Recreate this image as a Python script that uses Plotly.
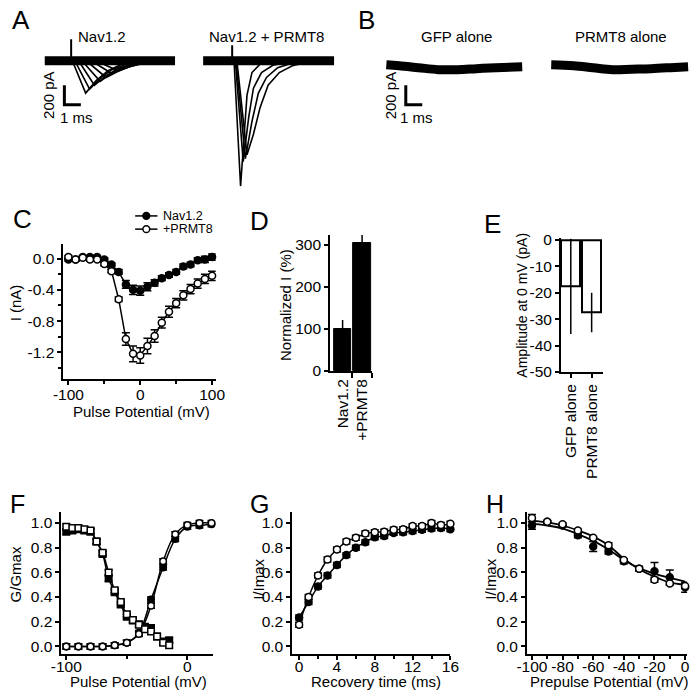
import plotly.graph_objects as go

W, H = 700, 699
FONT = "Arial, Liberation Sans, sans-serif"

# ---------------- DATA ----------------
# Panel A: example current sweeps (time in ms from stimulus, current in pA)
nav_sweep_t = [
    [0, 0.12, 0.88, 1.53, 2.24, 3.12, 4.29, 6.2],
    [0, 0.29, 1.12, 1.76, 2.47, 3.41, 4.59, 6.2],
    [0, 0.53, 1.41, 2.06, 2.82, 3.71, 4.88, 6.2],
    [0, 0.76, 1.76, 2.41, 3.12, 4.00, 5.06, 6.2],
    [0, 1.06, 2.12, 2.82, 3.53, 4.41, 5.29, 6.2],
    [0, 1.41, 2.47, 3.18, 3.88, 4.71, 5.50, 6.2],
    [0, 1.76, 2.82, 3.53, 4.29, 5.06, 5.70, 6.2],
]
nav_sweep_i = [
    [0, -20, -330, -200, -100, -30, -10, 0],
    [0, -20, -290, -180, -90, -30, -10, 0],
    [0, -20, -250, -160, -80, -30, -10, 0],
    [0, -20, -210, -130, -70, -30, -10, 0],
    [0, -20, -170, -110, -60, -20, -10, 0],
    [0, -20, -130, -80, -40, -20, -5, 0],
    [0, -20, -100, -60, -30, -10, -5, 0],
]
prmt_sweep_t = [
    [0, 0.12, 0.51, 0.71, 0.90, 1.20, 1.69, 2.50, 6.1],
    [0, 0.20, 0.67, 1.00, 1.29, 1.78, 2.47, 3.50, 6.1],
    [0, 0.25, 0.80, 1.20, 1.59, 2.08, 2.76, 3.80, 6.1],
    [0, 0.30, 0.90, 1.29, 1.69, 2.18, 2.86, 3.65, 4.43, 5.50, 6.1],
]
prmt_sweep_i = [
    [0, -20, -1280, -750, -350, -120, -35, -10, 0],
    [0, -20, -1030, -580, -280, -120, -45, -10, 0],
    [0, -20, -1000, -620, -330, -170, -70, -15, 0],
    [0, -20, -960, -750, -480, -250, -120, -50, -20, -5, 0],
]
nav_base_t = [-1.6, 6.3]
prmt_base_t = [-1.76, 6.18]
base_i = [0, 0]
nav_artifact_i = [0, 220]
prmt_artifact_i = [0, 160]

# Panel B: control traces
gfp_t = [-1.18, -0.41, 0.76, 1.94, 3.12, 4.29, 5.47, 7.06]
gfp_i = [-40, -50, -70, -90, -90, -80, -70, -60]
prmt_alone_t = [8.82, 10.18, 11.35, 12.53, 13.71, 14.88, 16.06, 17.12]
prmt_alone_i = [-40, -50, -70, -90, -85, -80, -70, -60]

scale_ms = 1
scale_pa = 200

# Panel C: I-V
c_v = list(range(-100, 101, 10))
c_nav = [-0.01, -0.01, 0.02, 0.02, 0.02, -0.01, -0.075, -0.17, -0.33, -0.40, -0.41,
         -0.36, -0.31, -0.25, -0.21, -0.17, -0.10, -0.075, -0.02, -0.01, 0.02]
c_nav_err = [0.02, 0.02, 0.02, 0.02, 0.02, 0.02, 0.02, 0.03, 0.05, 0.06, 0.06,
             0.05, 0.04, 0.03, 0.03, 0.03, 0.03, 0.03, 0.03, 0.04, 0.04]
c_prmt = [0.02, -0.01, 0.01, -0.01, -0.01, -0.07, -0.16, -0.52, -1.03, -1.22, -1.24,
          -1.12, -0.99, -0.82, -0.68, -0.57, -0.47, -0.39, -0.32, -0.26, -0.22]
c_prmt_err = [0.02, 0.02, 0.02, 0.02, 0.02, 0.02, 0.02, 0.03, 0.08, 0.10, 0.10,
              0.10, 0.08, 0.07, 0.07, 0.06, 0.06, 0.06, 0.06, 0.06, 0.06]

# Panel D: normalized current
d_groups = ["Nav1.2", "+PRMT8"]
d_values = [100, 303]
d_err = [21, 25]

# Panel E: amplitude at 0 mV
e_groups = ["GFP alone", "PRMT8 alone"]
e_values = [-17.6, -27.5]
e_err = [18, 7.5]

# Panel F: activation / inactivation
f_act_v = [-100, -90, -80, -70, -60, -50, -40, -30, -20, -10, 0, 10, 20]
f_act_nav = [0.0, 0.0, 0.0, 0.0, 0.01, 0.03, 0.11, 0.38, 0.64, 0.87, 0.97, 0.98, 0.99]
f_act_prmt = [0.0, 0.0, 0.0, 0.0, 0.01, 0.03, 0.10, 0.33, 0.69, 0.91, 0.985, 1.0, 1.0]
f_inact_v = [-100, -95, -90, -85, -80, -75, -70, -65, -60, -55, -50, -45, -40, -35, -30, -25, -20, -15]
f_inact_nav = [0.93, 0.94, 0.95, 0.94, 0.93, 0.85, 0.75, 0.55, 0.44, 0.34, 0.24, 0.21, 0.18,
               0.16, 0.15, 0.08, 0.04, 0.05]
f_inact_prmt = [0.97, 0.96, 0.96, 0.95, 0.94, 0.85, 0.76, 0.60, 0.455, 0.36, 0.26, 0.215, 0.175,
                0.14, 0.12, 0.08, 0.03, 0.01]
f_err = 0.02

# Panel G: recovery from inactivation
g_t = list(range(0, 17))
g_nav = [0.235, 0.36, 0.485, 0.575, 0.66, 0.74, 0.80, 0.845, 0.885, 0.895, 0.92, 0.925,
         0.935, 0.945, 0.955, 0.96, 0.95]
g_prmt = [0.175, 0.40, 0.575, 0.705, 0.785, 0.85, 0.88, 0.915, 0.925, 0.93, 0.945, 0.95,
          0.975, 0.975, 1.0, 0.985, 0.995]
g_err = 0.02

# Panel H: steady-state inactivation (slow)
h_v = [-100, -90, -80, -70, -60, -50, -40, -30, -20, -10, 0]
h_nav = [0.98, 1.01, 0.98, 0.90, 0.81, 0.77, 0.69, 0.63, 0.61, 0.56, 0.48]
h_nav_err = [0.03, 0.01, 0.01, 0.02, 0.04, 0.02, 0.02, 0.02, 0.07, 0.06, 0.04]
h_prmt = [1.04, 1.01, 0.99, 0.94, 0.88, 0.82, 0.70, 0.63, 0.54, 0.51, 0.49]
h_prmt_err = [0.03, 0.01, 0.01, 0.01, 0.01, 0.02, 0.01, 0.01, 0.02, 0.01, 0.02]
h_fit_nav = [0.995, 0.98, 0.955, 0.91, 0.855, 0.785, 0.70, 0.635, 0.59, 0.555, 0.525]
h_fit_prmt = [1.02, 1.005, 0.98, 0.94, 0.89, 0.82, 0.71, 0.625, 0.565, 0.52, 0.50]

# ---------------- FIGURE ----------------
fig = go.Figure()


def dx(a, b):
    return [a / W, b / W]


def dy(top, bottom):
    return [1 - bottom / H, 1 - top / H]


def line_tr(x, y, ax, width=1.5, shape="linear", color="black"):
    fig.add_trace(go.Scatter(x=x, y=y, mode="lines", xaxis="x" + ax, yaxis="y" + ax,
                             line=dict(color=color, width=width, shape=shape),
                             hoverinfo="skip", showlegend=False))


def series(x, y, ax, err=None, filled=True, symbol="circle", size=7, lines=True,
           shape="linear", capw=4):
    e = None
    if err is not None:
        arr = err if isinstance(err, list) else [err] * len(x)
        e = dict(type="data", array=arr, color="black", thickness=1.5, width=capw)
    fig.add_trace(go.Scatter(
        x=x, y=y, mode="lines+markers" if lines else "markers",
        xaxis="x" + ax, yaxis="y" + ax, error_y=e,
        line=dict(color="black", width=1.5, shape=shape),
        marker=dict(symbol=symbol, size=size, color="black" if filled else "white",
                    line=dict(color="black", width=1.5)),
        cliponaxis=False, hoverinfo="skip", showlegend=False))


# Panel A traces (axes 1 & 2)
for ax, base_t, art, st, si in [("", nav_base_t, nav_artifact_i, nav_sweep_t, nav_sweep_i),
                                ("2", prmt_base_t, prmt_artifact_i, prmt_sweep_t, prmt_sweep_i)]:
    line_tr(base_t, base_i, ax, width=9)
    line_tr([0, 0], art, ax, width=2)
    for t, i in zip(st, si):
        line_tr(t, i, ax, width=1.6)

# scale bar A
line_tr([-0.41, -0.41, -0.41 + scale_ms], [-250, -250 - scale_pa, -250 - scale_pa], "", width=3)

# Panel B (axis 3)
line_tr(gfp_t, gfp_i, "3", width=9, shape="spline")
line_tr(prmt_alone_t, prmt_alone_i, "3", width=9, shape="spline")
line_tr([0, 0, scale_ms], [-250, -250 - scale_pa, -250 - scale_pa], "3", width=3)

# Panel C (axis 4)
series(c_v, c_nav, "4", c_nav_err, filled=True)
series(c_v, c_prmt, "4", c_prmt_err, filled=False)

# Panel D (axis 5)
fig.add_trace(go.Bar(x=[0, 1], y=d_values, width=0.9, xaxis="x5", yaxis="y5",
                     marker=dict(color="black", line=dict(color="black", width=1)),
                     error_y=dict(type="data", array=d_err, color="black", thickness=1.5, width=0),
                     hoverinfo="skip", showlegend=False))

# Panel E (axis 6)
fig.add_trace(go.Bar(x=[0, 1], y=e_values, width=0.92, xaxis="x6", yaxis="y6",
                     marker=dict(color="white", line=dict(color="black", width=2)),
                     error_y=dict(type="data", array=e_err, color="black", thickness=1.5, width=0),
                     hoverinfo="skip", showlegend=False))

# Panel F (axis 7)
series(f_act_v, f_act_nav, "7", f_err, filled=True, size=6.5, shape="spline")
series(f_act_v, f_act_prmt, "7", f_err, filled=False, size=6.5, shape="spline")
series(f_inact_v, f_inact_nav, "7", f_err, filled=True, symbol="square", size=6.5, shape="spline")
series(f_inact_v, f_inact_prmt, "7", f_err, filled=False, symbol="square", size=6.5, shape="spline")

# Panel G (axis 8)
series(g_t, g_nav, "8", g_err, filled=True, size=7, shape="spline")
series(g_t, g_prmt, "8", g_err, filled=False, size=7, shape="spline")

# Panel H (axis 9)
line_tr(h_v, h_fit_nav, "9", width=1.8, shape="spline")
line_tr(h_v, h_fit_prmt, "9", width=1.8, shape="spline")
series(h_v, h_nav, "9", h_nav_err, filled=True, size=7, lines=False)
series(h_v, h_prmt, "9", h_prmt_err, filled=False, size=7, lines=False)

TICK_FS = 15.5
TITLE_FS = 15


# ---------------- AXES ----------------
def ax_style(**kw):
    d = dict(showline=True, linecolor="black", linewidth=2, ticks="outside", ticklen=4,
             tickwidth=2, tickcolor="black", showgrid=False, zeroline=False,
             tickfont=dict(family=FONT, size=TICK_FS, color="black"), fixedrange=True)
    d.update(kw)
    return d


MINOR = dict(ticks="outside", ticklen=3, tickwidth=2, tickcolor="black")
hidden = dict(visible=False, showgrid=False, zeroline=False, fixedrange=True)
a_yrange = [-1400, 350]
lay = {}
lay["xaxis"] = dict(hidden, domain=dx(30, 175), range=[(30 - 62) / 17, (175 - 62) / 17])
lay["yaxis"] = dict(hidden, domain=dy(20, 195), range=a_yrange)
lay["xaxis2"] = dict(hidden, domain=dx(185, 345), range=[(185 - 228) / 17, (345 - 228) / 17])
lay["yaxis2"] = dict(hidden, domain=dy(20, 195), range=a_yrange)
lay["xaxis3"] = dict(hidden, domain=dx(375, 700), range=[(375 - 407) / 17, (700 - 407) / 17])
lay["yaxis3"] = dict(hidden, domain=dy(20, 195), range=a_yrange)


def labs(vals, fmt):
    return [fmt.format(v) for v in vals]


# C
c_xt = [-100, 0, 100]
c_yt = [0, -0.4, -0.8, -1.2]
lay["xaxis4"] = ax_style(domain=dx(54, 211), range=[-107, 105], tickvals=c_xt,
                         ticktext=labs(c_xt, "{:d}"), anchor="y4", ticklabelstandoff=-3,
                         minor=dict(MINOR, tickvals=[-50, 50]))
lay["yaxis4"] = ax_style(domain=dy(242, 380), range=[-1.54, 0.19], tickvals=c_yt,
                         ticktext=labs(c_yt, "{:.1f}"), anchor="x4",
                         minor=dict(MINOR, tickvals=[-0.2, -0.6, -1.0, -1.4]))
# D
d_yt = [0, 100, 200, 300]
lay["xaxis5"] = ax_style(domain=dx(329, 372), range=[-0.64, 1.5], tickvals=[0, 1], ticktext=d_groups,
                         tickangle=-90, ticks="", anchor="y5",
                         minor=dict(MINOR, tickvals=[0.5, 1.5], ticklen=5))
lay["yaxis5"] = ax_style(domain=dy(233, 372), range=[0, 323], tickvals=d_yt,
                         ticktext=labs(d_yt, "{:d}"), anchor="x5")
# E
e_yt = [0, -10, -20, -30, -40, -50]
e_px = (373 - 238) / 50
lay["xaxis6"] = ax_style(domain=dx(567, 610), range=[-0.47, 1.53], tickvals=[0, 1], ticktext=e_groups,
                         tickangle=-90, anchor="y6")
lay["yaxis6"] = ax_style(domain=dy(238 - 0.6 * e_px, 373), range=[-50, 0.6], tickvals=e_yt,
                         ticktext=labs(e_yt, "{:d}"), anchor="x6")
# F, G, H share the y scale
fy = [0, 0.2, 0.4, 0.6, 0.8, 1.0]
fgh_dom = dy(516, 661)
fgh_range = [-0.06, 1.09]
lay["xaxis7"] = ax_style(domain=dx(52, 208), range=[-104, 21], tickvals=[-100, 0],
                         ticktext=["-100", "0"], anchor="y7", ticklabelstandoff=-6,
                         minor=dict(MINOR, tickvals=[-50]))
lay["yaxis7"] = ax_style(domain=fgh_dom, range=fgh_range, tickvals=fy, ticktext=labs(fy, "{:.1f}"), anchor="x7")
g_xt = [0, 4, 8, 12, 16]
lay["xaxis8"] = ax_style(domain=dx(290, 453), range=[-0.72, 16.0], tickvals=g_xt,
                         ticktext=labs(g_xt, "{:d}"), anchor="y8", ticklabelstandoff=-6,
                         minor=dict(MINOR, tickvals=[2, 6, 10, 14]))
lay["yaxis8"] = ax_style(domain=fgh_dom, range=fgh_range, tickvals=fy, ticktext=labs(fy, "{:.1f}"), anchor="x8")
h_xt = [-100, -80, -60, -40, -20, 0]
lay["xaxis9"] = ax_style(domain=dx(532, 697), range=[-103.2, 1.3], tickvals=h_xt,
                         ticktext=labs(h_xt, "{:d}"), anchor="y9", ticklabelstandoff=-6,
                         minor=dict(MINOR, tickvals=[-90, -70, -50, -30, -10]))
lay["yaxis9"] = ax_style(domain=fgh_dom, range=fgh_range, tickvals=fy, ticktext=labs(fy, "{:.1f}"), anchor="x9")


# ---------------- TEXT ----------------
def ann(text, x, y, size=TITLE_FS, angle=0, xanchor="center", yanchor="middle"):
    return dict(text=text, x=x / W, y=1 - y / H, xref="paper", yref="paper", showarrow=False,
                font=dict(family=FONT, size=size, color="black"), textangle=angle,
                xanchor=xanchor, yanchor=yanchor, borderpad=0)


anns = [
    ann("A", 10, 13, 26), ann("B", 367, 13, 26), ann("C", 12, 217, 26), ann("D", 256, 219, 26),
    ann("E", 496, 222, 26), ann("F", 7, 508, 25), ann("G", 256, 508, 25), ann("H", 499, 508, 25),
    ann("Nav1.2", 94, 30, 15), ann("Nav1.2 + PRMT8", 263, 30, 15),
    ann("GFP alone", 459, 30, 15), ann("PRMT8 alone", 629, 30, 15),
    ann("200 pA", 38, 90, 15, -90), ann("1 ms", 68, 113, 15),
    ann("200 pA", 391, 90, 15, -90), ann("1 ms", 418, 113, 15),
    ann("I (nA)", 5, 302, angle=-90), ann("Pulse Potential (mV)", 135, 413),
    ann("Normalized I (%)", 283, 305, angle=-90),
    ann("Amplitude at 0 mV (pA)", 527, 305, 14, -90),
    ann("G/Gmax", 5, 580, angle=-90),
    ann("Pulse Potential (mV)", 131, 699, yanchor="bottom"),
    ann("I/Imax", 255, 585, angle=-90),
    ann("Recovery time (ms)", 376, 699, yanchor="bottom"),
    ann("I/Imax", 494, 585, angle=-90),
    ann("Prepulse Potential (mV)", 617, 699, yanchor="bottom"),
    ann("Nav1.2", 156, 213.5, 12.5, xanchor="left"), ann("+PRMT8", 156, 227, 12.5, xanchor="left"),
]

# legend glyphs for panel C
shapes = []
for yy, fillc in [(213.5, "black"), (227, "white")]:
    shapes.append(dict(type="line", xref="paper", yref="paper", x0=128 / W, x1=151 / W,
                       y0=1 - yy / H, y1=1 - yy / H, line=dict(color="black", width=1.5)))
    shapes.append(dict(type="circle", xref="paper", yref="paper", x0=136 / W, x1=143 / W,
                       y0=1 - (yy + 3.5) / H, y1=1 - (yy - 3.5) / H, fillcolor=fillc,
                       line=dict(color="black", width=1.5)))

fig.update_layout(
    width=W, height=H, autosize=False, margin=dict(l=0, r=0, t=0, b=0),
    paper_bgcolor="white", plot_bgcolor="white", showlegend=False,
    font=dict(family=FONT, size=15, color="black"),
    annotations=anns, shapes=shapes, bargap=0, **lay)

fig.write_html("out.html", config={"displayModeBar": False},
               post_script="document.body.style.margin='0';"
                           "document.documentElement.style.overflow='hidden';")
